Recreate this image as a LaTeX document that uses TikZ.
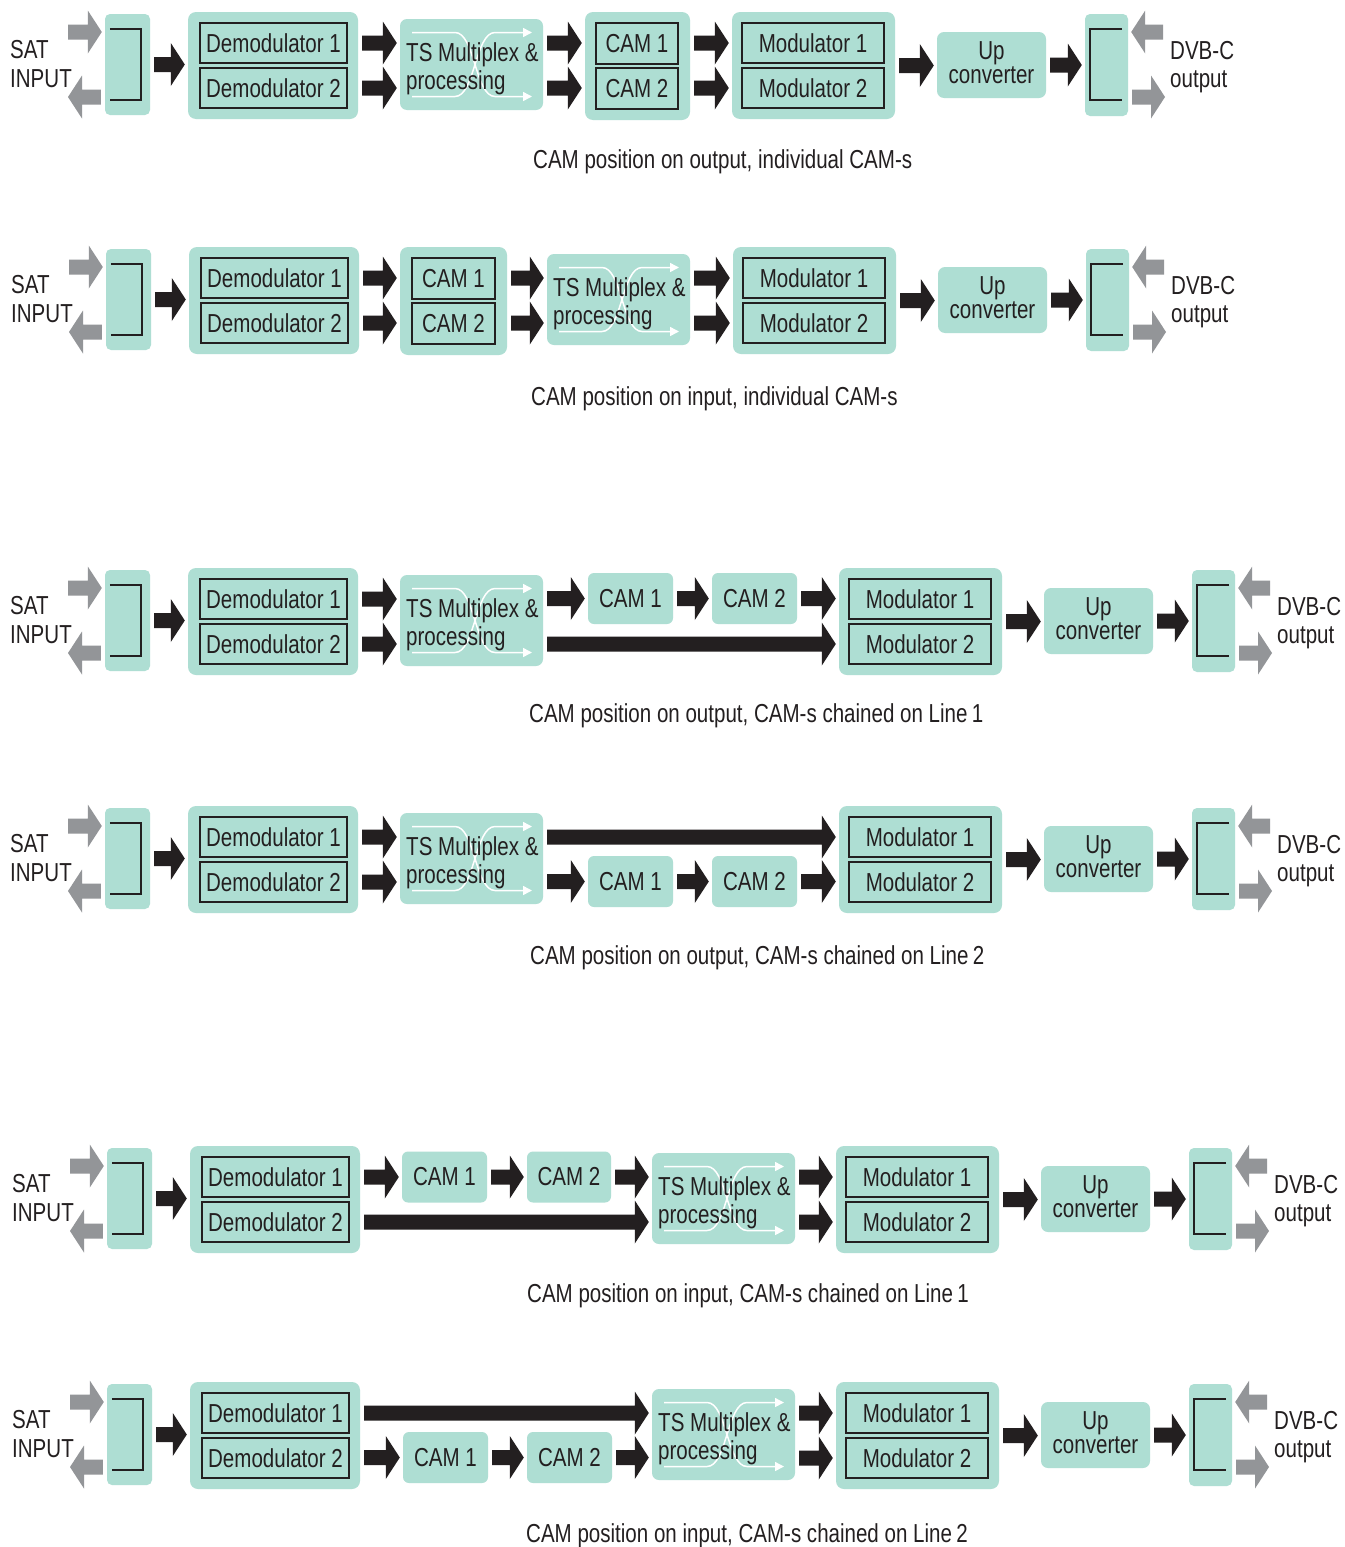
\documentclass[tikz,border=0pt]{standalone}
\usepackage{fontspec}
\setmainfont{Liberation Sans}[FakeStretch=0.79]
\usetikzlibrary{calc,arrows.meta}
\definecolor{boxfill}{RGB}{174,222,211}
\definecolor{arrgray}{RGB}{147,149,152}
\definecolor{ink}{RGB}{35,31,32}
\tikzset{
 outerbox/.style={fill=boxfill, rounded corners=8pt, inner sep=0pt},
 innerbox/.style={draw=ink, line width=1.6pt, inner sep=0pt},
 tsbox/.style={fill=boxfill, rounded corners=7pt, inner sep=0pt},
 connbox/.style={fill=boxfill, rounded corners=5pt, inner sep=0pt},
 chaincam/.style={fill=boxfill, rounded corners=6pt, inner sep=0pt, minimum height=51pt},
 bracket/.style={draw=ink, line width=1.8pt},
 flowcurve/.style={draw=white, line width=1.5pt, -{Triangle[length=9pt,width=9pt]}},
 label2/.style={align=left, anchor=west, inner sep=0pt},
 caption/.style={anchor=base west, inner sep=0pt}
}
% fat right-pointing arrow from #2 to #3 (y taken from #2)
\newcommand\fatR[3][ink]{\fill[#1] let \p1=#2, \p2=#3 in
 (\x1+4pt,\y1+7.5pt) -- (\x2-17pt,\y1+7.5pt) -- (\x2-17pt,\y1+21.5pt) -- (\x2-3pt,\y1)
 -- (\x2-17pt,\y1-21.5pt) -- (\x2-17pt,\y1-7.5pt) -- (\x1+4pt,\y1-7.5pt) -- cycle;}
% fat left-pointing arrow from #2 to #3
\newcommand\fatL[3][ink]{\fill[#1] let \p1=#2, \p2=#3 in
 (\x1-4pt,\y1+7.5pt) -- (\x2+17pt,\y1+7.5pt) -- (\x2+17pt,\y1+21.5pt) -- (\x2+3pt,\y1)
 -- (\x2+17pt,\y1-21.5pt) -- (\x2+17pt,\y1-7.5pt) -- (\x1-4pt,\y1-7.5pt) -- cycle;}
\newcommand\leftpart[3]{%
 \node[label2, font=\fontsize{26}{29}\selectfont] (#1sat) at (10+#2,#3-1.5) {SAT\\INPUT};
 \node[connbox, minimum width=45pt, minimum height=101pt] (#1lc) at (127.5+#2,#3-1.5) {};
 \draw[bracket] ($(#1lc.north west)+(5,15)$) -- ($(#1lc.north east)+(-9,15)$) -- ($(#1lc.south east)+(-9,-15)$) -- ($(#1lc.south west)+(5,-15)$);
 \coordinate (#1ga) at (64+#2,#3-34);
 \coordinate (#1gb) at (65+#2,#3+31);
 \fatR[arrgray]{(#1ga)}{(#1lc.west |- #1ga)}
 \fatL[arrgray]{(#1lc.west |- #1gb)}{(#1gb)}
 \node[outerbox, minimum width=170pt, minimum height=107pt] (#1demod) at (273+#2,#3-0.5) {};
 \node[innerbox, minimum width=147pt, minimum height=40pt] (#1d1) at (273.5+#2,#3-23) {Demodulator 1};
 \node[innerbox, minimum width=147pt, minimum height=40pt] (#1d2) at (273.5+#2,#3+22) {Demodulator 2};
 \fatR{(#1lc.east)}{(#1demod.west |- #1lc.east)}
}
\newcommand\rightpart[3]{%
 \node[outerbox, minimum width=163pt, minimum height=107pt] (#1mod) at (813.5+#2,#3-0.5) {};
 \node[innerbox, minimum width=142pt, minimum height=40pt] (#1m1) at (813+#2,#3-23) {Modulator 1};
 \node[innerbox, minimum width=142pt, minimum height=40pt] (#1m2) at (813+#2,#3+22) {Modulator 2};
 \node[tsbox, minimum width=109pt, minimum height=66pt, align=center, text depth=5pt, font=\fontsize{26}{22}\selectfont] (#1up) at (991.5+#2,#3-1) {Up\\converter};
 \node[connbox, minimum width=43pt, minimum height=102pt] (#1rc) at (1106.5+#2,#3-1) {};
 \draw[bracket] ($(#1rc.north east)+(-6,15)$) -- ($(#1rc.north west)+(5,15)$) -- ($(#1rc.south west)+(5,-16)$) -- ($(#1rc.south east)+(-6,-16)$);
 \fatR{(#1mod.east)}{(#1up.west |- #1mod.east)}
 \fatR{(#1up.east)}{(#1rc.west |- #1up.east)}
 \coordinate (#1gc) at (1167+#2,#3-34);
 \coordinate (#1gd) at (1168+#2,#3+31);
 \fatL[arrgray]{(#1gc)}{(#1rc.east |- #1gc)}
 \fatR[arrgray]{(#1rc.east |- #1gd)}{(#1gd)}
 \node[label2, font=\fontsize{26}{28}\selectfont] (#1dvb) at (1170+#2,#3+1) {DVB-C\\output};
}
\newcommand\tsmux[3]{%
 \node[tsbox, minimum width=143pt, minimum height=91pt] (#1) at (#2,#3) {};
 \draw[flowcurve] (#2-59.5,#3-32) -- (#2-16.5,#3-32) .. controls (#2+3.5,#3-32) and (#2+3.5,#3+32) .. (#2+23.5,#3+32) -- (#2+60.5,#3+32);
 \draw[flowcurve] (#2-59.5,#3+32) -- (#2-16.5,#3+32) .. controls (#2+3.5,#3+32) and (#2+3.5,#3-32) .. (#2+23.5,#3-32) -- (#2+60.5,#3-32);
 \node[label2, font=\fontsize{26}{28}\selectfont] (#1txt) at (#2-65.5,#3+4.5) {TS Multiplex \&\\processing};
}
\begin{document}
\begin{tikzpicture}[x=1pt, y=-1pt, font=\fontsize{26}{29}\selectfont, text=ink]
\path[use as bounding box, fill=white] (0,0) rectangle (1344,1547);

% ---------------- Row 1
\leftpart{r1}{0}{66}
\tsmux{r1ts}{471.5}{64.5}
\node[outerbox, minimum width=105pt, minimum height=108pt] (r1cam) at (637.5,66) {};
\node[innerbox, minimum width=82pt, minimum height=41pt] (r1c1) at (637,43.5) {CAM 1};
\node[innerbox, minimum width=82pt, minimum height=41pt] (r1c2) at (637,88.5) {CAM 2};
\rightpart{r1}{0}{66}
\fatR{(r1demod.east |- r1d1)}{(r1ts.west |- r1d1)}
\fatR{(r1demod.east |- r1d2)}{(r1ts.west |- r1d2)}
\fatR{(r1ts.east |- r1d1)}{(r1cam.west |- r1d1)}
\fatR{(r1ts.east |- r1d2)}{(r1cam.west |- r1d2)}
\fatR{(r1cam.east |- r1d1)}{(r1mod.west |- r1d1)}
\fatR{(r1cam.east |- r1d2)}{(r1mod.west |- r1d2)}
\node[caption] (cap1) at (533,168) {CAM position on output, individual CAM-s};

% ---------------- Row 2
\leftpart{r2}{1}{301}
\node[outerbox, minimum width=107pt, minimum height=108pt] (r2cam) at (453.5,301) {};
\node[innerbox, minimum width=83pt, minimum height=41pt] (r2c1) at (453.5,278.5) {CAM 1};
\node[innerbox, minimum width=83pt, minimum height=41pt] (r2c2) at (453.5,323.5) {CAM 2};
\tsmux{r2ts}{618.5}{299.5}
\rightpart{r2}{1}{301}
\fatR{(r2demod.east |- r2d1)}{(r2cam.west |- r2d1)}
\fatR{(r2demod.east |- r2d2)}{(r2cam.west |- r2d2)}
\fatR{(r2cam.east |- r2d1)}{(r2ts.west |- r2d1)}
\fatR{(r2cam.east |- r2d2)}{(r2ts.west |- r2d2)}
\fatR{(r2ts.east |- r2d1)}{(r2mod.west |- r2d1)}
\fatR{(r2ts.east |- r2d2)}{(r2mod.west |- r2d2)}
\node[caption] (cap2) at (531,405) {CAM position on input, individual CAM-s};

% ---------------- Row 3
\leftpart{r3}{0}{622}
\tsmux{r3ts}{471.5}{620.5}
\node[chaincam, minimum width=85pt] (r3c1) at (630.5,598.5) {CAM 1};
\node[chaincam, minimum width=85pt] (r3c2) at (754.5,598.5) {CAM 2};
\rightpart{r3}{107}{622}
\fatR{(r3demod.east |- r3d1)}{(r3ts.west |- r3d1)}
\fatR{(r3demod.east |- r3d2)}{(r3ts.west |- r3d2)}
\fatR{(r3ts.east |- r3c1)}{(r3c1.west)}
\fatR{(r3c1.east)}{(r3c2.west)}
\fatR{(r3c2.east)}{(r3mod.west |- r3c2)}
\fatR{(r3ts.east |- r3d2)}{(r3mod.west |- r3d2)}
\node[caption] (cap3) at (529,722) {CAM position on output, CAM-s chained on Line\,1};

% ---------------- Row 4
\leftpart{r4}{0}{860}
\tsmux{r4ts}{471.5}{858.5}
\node[chaincam, minimum width=85pt] (r4c1) at (630.5,881.5) {CAM 1};
\node[chaincam, minimum width=85pt] (r4c2) at (754.5,881.5) {CAM 2};
\rightpart{r4}{107}{860}
\fatR{(r4demod.east |- r4d1)}{(r4ts.west |- r4d1)}
\fatR{(r4demod.east |- r4d2)}{(r4ts.west |- r4d2)}
\fatR{(r4ts.east |- r4d1)}{(r4mod.west |- r4d1)}
\fatR{(r4ts.east |- r4c1)}{(r4c1.west)}
\fatR{(r4c1.east)}{(r4c2.west)}
\fatR{(r4c2.east)}{(r4mod.west |- r4c2)}
\node[caption] (cap4) at (530,964) {CAM position on output, CAM-s chained on Line\,2};

% ---------------- Row 5
\leftpart{r5}{2}{1200}
\node[chaincam, minimum width=85pt] (r5c1) at (444.5,1177) {CAM 1};
\node[chaincam, minimum width=84pt] (r5c2) at (569,1177) {CAM 2};
\tsmux{r5ts}{723.5}{1198.5}
\rightpart{r5}{104}{1200}
\fatR{(r5demod.east |- r5c1)}{(r5c1.west)}
\fatR{(r5c1.east)}{(r5c2.west)}
\fatR{(r5c2.east)}{(r5ts.west |- r5c2)}
\fatR{(r5demod.east |- r5d2)}{(r5ts.west |- r5d2)}
\fatR{(r5ts.east |- r5d1)}{(r5mod.west |- r5d1)}
\fatR{(r5ts.east |- r5d2)}{(r5mod.west |- r5d2)}
\node[caption] (cap5) at (527,1302) {CAM position on input, CAM-s chained on Line\,1};

% ---------------- Row 6
\leftpart{r6}{2}{1436}
\node[chaincam, minimum width=85pt] (r6c1) at (445.5,1457.5) {CAM 1};
\node[chaincam, minimum width=85pt] (r6c2) at (569.5,1457.5) {CAM 2};
\tsmux{r6ts}{723.5}{1434.5}
\rightpart{r6}{104}{1436}
\fatR{(r6demod.east |- r6d1)}{(r6ts.west |- r6d1)}
\fatR{(r6demod.east |- r6c1)}{(r6c1.west)}
\fatR{(r6c1.east)}{(r6c2.west)}
\fatR{(r6c2.east)}{(r6ts.west |- r6c2)}
\fatR{(r6ts.east |- r6d1)}{(r6mod.west |- r6d1)}
\fatR{(r6ts.east |- r6d2)}{(r6mod.west |- r6d2)}
\node[caption] (cap6) at (526,1542) {CAM position on input, CAM-s chained on Line\,2};
\end{tikzpicture}
\end{document}
